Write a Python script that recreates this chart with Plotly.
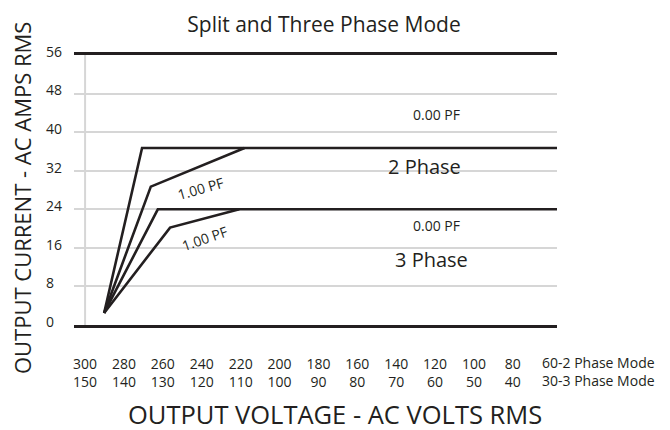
import plotly.graph_objects as go

# ---- data ----
volts_2ph = [300, 280, 260, 240, 220, 200, 180, 160, 140, 120, 100, 80]
volts_3ph = [150, 140, 130, 120, 110, 100, 90, 80, 70, 60, 50, 40]
amp_ticks = [0, 8, 16, 24, 32, 40, 48, 56]

# curves, x in 2-phase volts, y in amps
p2_pf0_v = [290.2, 270.7, 57.3]
p2_pf0_a = [2.5, 36.7, 36.7]
p2_pf1_v = [290.2, 266.2, 218.0]
p2_pf1_a = [2.5, 28.7, 36.7]
p3_pf0_v = [290.2, 262.6, 57.3]
p3_pf0_a = [2.5, 24.0, 24.0]
p3_pf1_v = [290.2, 256.3, 220.7]
p3_pf1_a = [2.5, 20.2, 24.0]

# labels: (text, volts, amps, size, angle)
labels = [
    ("0.00 PF", 119.5, 43.6, 14, 0),
    ("2 Phase", 125.7, 32.8, 20, 0),
    ("0.00 PF", 119.2, 20.7, 14, 0),
    ("3 Phase", 122.1, 13.5, 20, 0),
    ("1.00 PF", 240.9, 28.4, 14, -16),
    ("1.00 PF", 238.8, 18.0, 14, -19),
]

TXT = "#231f20"
LINE = "#231f20"
FONT = "Open Sans"

fig = go.Figure()
for v, a in [(p2_pf0_v, p2_pf0_a), (p2_pf1_v, p2_pf1_a),
             (p3_pf0_v, p3_pf0_a), (p3_pf1_v, p3_pf1_a)]:
    fig.add_trace(go.Scatter(x=v, y=a, mode="lines",
                             line=dict(color=LINE, width=2.6),
                             showlegend=False, hoverinfo="skip"))

for text, v, a, size, ang in labels:
    fig.add_annotation(x=v, y=a, xref="x", yref="y", text=text,
                       showarrow=False, textangle=ang,
                       font=dict(family=FONT, size=size, color=TXT))

# vertical reference line at the 300 V column
fig.add_shape(type="line", xref="x", yref="paper", x0=volts_2ph[0], x1=volts_2ph[0],
              y0=0, y1=1, line=dict(color="#d6d6d6", width=2), layer="below")

ytext = [f"{t}" if t >= 10 else f"{t}\u2007" for t in amp_ticks]
xtext = [f"{a}<br>{b}" for a, b in zip(volts_2ph, volts_3ph)]

fig.update_layout(
    width=670, height=430,
    margin=dict(l=74, r=113, t=55, b=105),
    paper_bgcolor="white", plot_bgcolor="white",
    font=dict(family=FONT, color=TXT),
    title=dict(text="Split and Three Phase Mode", x=0.4836, xref="container",
               xanchor="center", y=0.942, yref="container", yanchor="middle",
               font=dict(family=FONT, size=21, color=TXT)),
    xaxis=dict(range=[305.7, 57.3], tickvals=volts_2ph, ticktext=xtext,
               showgrid=False, zeroline=False, showline=True, mirror=True,
               linecolor=LINE, linewidth=2.5, ticks="", ticklabelstandoff=24,
               tickfont=dict(family=FONT, size=14, color=TXT), fixedrange=True),
    yaxis=dict(range=[0, 56], tickvals=amp_ticks, ticktext=ytext,
               showgrid=True, gridcolor="#d6d6d6", gridwidth=2, zeroline=False,
               showline=False, ticks="", ticklabelstandoff=11, ticklabelshift=-3,
               tickfont=dict(family=FONT, size=14, color=TXT), fixedrange=True),
)

fig.add_annotation(x=66.1, xref="x", y=-0.172, yref="paper", xanchor="left",
                   yanchor="middle", align="left", showarrow=False,
                   text="60-2 Phase Mode<br>30-3 Phase Mode",
                   font=dict(family=FONT, size=14, color=TXT))
fig.add_annotation(x=0.540, xref="paper", y=-0.33, yref="paper", showarrow=False,
                   xanchor="center", yanchor="middle",
                   text="OUTPUT VOLTAGE - AC VOLTS RMS",
                   font=dict(family=FONT, size=25.5, color=TXT))
fig.add_annotation(x=-0.1077, xref="paper", y=0.470, yref="paper", showarrow=False,
                   xanchor="center", yanchor="middle", textangle=-90,
                   text="OUTPUT CURRENT - AC AMPS RMS",
                   font=dict(family=FONT, size=22, color=TXT))

fig.write_html("out.html", config={"displayModeBar": False},
               post_script="document.body.style.margin='0';")
